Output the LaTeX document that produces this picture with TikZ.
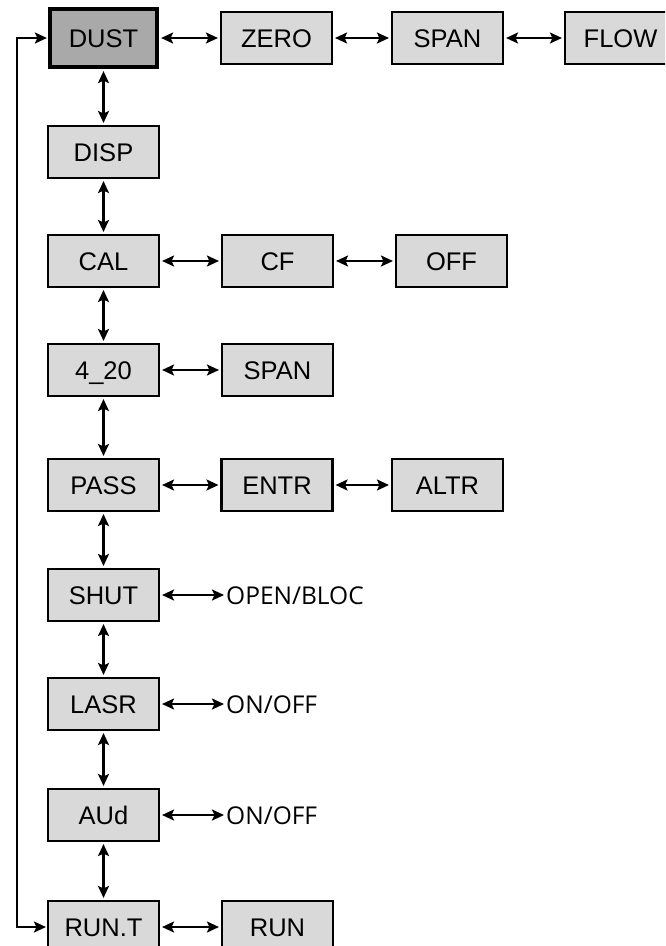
\documentclass[tikz,border=0pt]{standalone}
\usepackage{fontspec}
\setmainfont{Liberation Sans}
\newfontfamily\labelfont{Open Sans}
\usetikzlibrary{arrows.meta}
\definecolor{boxgray}{HTML}{D9D9D9}
\definecolor{dustgray}{HTML}{A9A9A9}
\begin{document}
\begin{tikzpicture}[x=1pt,y=-1pt,
  box/.style={draw=black, line width=2.1pt, fill=boxgray, minimum width=111pt, minimum height=52pt,
    inner sep=0pt, text height=18pt, text depth=0pt, font=\fontsize{25.5}{30}\selectfont},
  mainbox/.style={box, fill=dustgray, line width=4.2pt, minimum width=107pt, minimum height=58pt},
  lbl/.style={anchor=west, inner sep=0pt, text height=18pt, text depth=0pt, font=\labelfont\fontsize{24.5}{29}\selectfont},
  conn/.style={line width=2.2pt, {Stealth[length=12pt,width=11pt,inset=2.5pt]}-{Stealth[length=12pt,width=11pt,inset=2.5pt]}, shorten >=2pt, shorten <=2pt}
]
\clip (0,0) rectangle (665,946);
% column 1
\node[mainbox] (dust) at (103.5,38) {DUST};
\node[box] (disp) at (103.5,152) {DISP};
\node[box] (cal)  at (103.5,261) {CAL};
\node[box] (f420) at (103.5,370) {4\_20};
\node[box] (pass) at (103.5,485) {PASS};
\node[box] (shut) at (103.5,595) {SHUT};
\node[box] (lasr) at (103.5,704) {LASR};
\node[box] (aud)  at (103.5,815) {AUd};
\node[box] (runt) at (103.5,927) {RUN.T};
% row items
\node[box] (zero) at (276.5,38) {ZERO};
\node[box] (span) at (447.5,38) {SPAN};
\node[box] (flow) at (620.5,38) {FLOW};
\node[box] (cf)   at (277.5,261) {CF};
\node[box] (off)  at (451.5,261) {OFF};
\node[box] (span2) at (277.5,370) {SPAN};
\node[box] (entr) at (277,485) {ENTR};
\node[box] (altr) at (447.5,485) {ALTR};
\node[box] (run)  at (277.5,927) {RUN};
% labels
\node[lbl] (shutl) at (226,595) {OPEN/BLOC};
\node[lbl] (lasrl) at (226,704) {ON/OFF};
\node[lbl] (audl)  at (226,815) {ON/OFF};
% vertical connectors
\draw[conn] (dust) -- (disp);
\draw[conn] (disp) -- (cal);
\draw[conn] (cal) -- (f420);
\draw[conn] (f420) -- (pass);
\draw[conn] (pass) -- (shut);
\draw[conn] (shut) -- (lasr);
\draw[conn] (lasr) -- (aud);
\draw[conn] (aud) -- (runt);
% horizontal connectors
\draw[conn] (dust) -- (zero);
\draw[conn] (zero) -- (span);
\draw[conn] (span) -- (flow);
\draw[conn] (cal) -- (cf);
\draw[conn] (cf) -- (off);
\draw[conn] (f420) -- (span2);
\draw[conn] (pass) -- (entr);
\draw[conn] (entr) -- (altr);
\draw[conn] (shut.east) -- (shutl.west);
\draw[conn] (lasr.east) -- (lasrl.west);
\draw[conn] (aud.east) -- (audl.west);
\draw[conn] (runt) -- (run);
% loop back
\coordinate (loopx) at (17,0);
\draw[conn, shorten <=1pt, shorten >=1pt] (runt.west) -- (runt.west -| loopx) |- (dust.west);
\end{tikzpicture}
\end{document}
